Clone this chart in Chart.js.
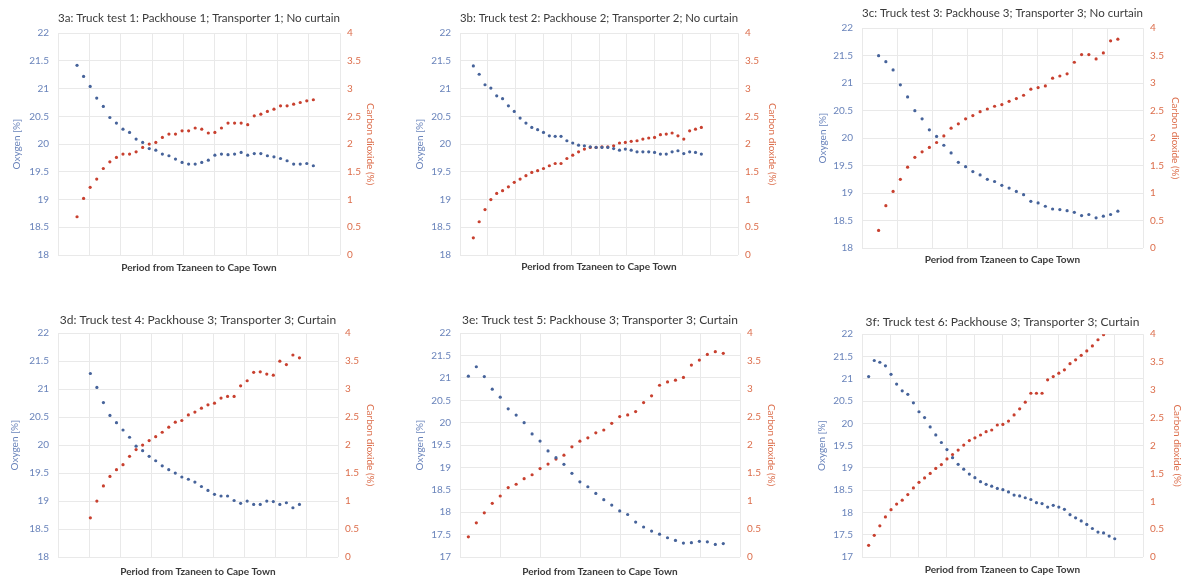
<!DOCTYPE html>
<html>
<head>
<meta charset="utf-8">
<script src="https://cdn.jsdelivr.net/npm/chart.js@4.4.0/dist/chart.umd.min.js"></script>
<style>
  html, body { margin: 0; padding: 0; background: #fff; overflow: hidden; }
  body { width: 1184px; height: 576px; position: relative; }
  canvas { position: absolute; }
</style>
</head>
<body>
<script>
// Oxygen (%) and carbon dioxide (%) readings, one per logging interval
const oxygen3a = [21.42, 21.22, 21.04, 20.83, 20.68, 20.48, 20.38, 20.27, 20.21, 20.09, 20.03, 19.92, 19.89, 19.82, 19.79, 19.73, 19.67, 19.64, 19.64, 19.67, 19.71, 19.80, 19.82, 19.81, 19.82, 19.85, 19.80, 19.83, 19.83, 19.79, 19.77, 19.74, 19.70, 19.64, 19.64, 19.65, 19.61];
const co2_3a = [0.69, 1.02, 1.22, 1.37, 1.56, 1.68, 1.76, 1.82, 1.82, 1.86, 1.94, 2.00, 2.03, 2.12, 2.18, 2.18, 2.24, 2.24, 2.29, 2.27, 2.20, 2.21, 2.29, 2.38, 2.38, 2.38, 2.35, 2.51, 2.54, 2.59, 2.63, 2.69, 2.69, 2.72, 2.75, 2.78, 2.80];

const oxygen3b = [21.41, 21.26, 21.07, 21.01, 20.87, 20.82, 20.69, 20.59, 20.47, 20.38, 20.30, 20.26, 20.21, 20.15, 20.14, 20.14, 20.06, 20.02, 19.98, 19.97, 19.95, 19.94, 19.94, 19.94, 19.92, 19.89, 19.91, 19.89, 19.86, 19.86, 19.86, 19.85, 19.82, 19.82, 19.86, 19.88, 19.83, 19.86, 19.85, 19.82];
const co2_3b = [0.31, 0.60, 0.82, 1.00, 1.11, 1.16, 1.23, 1.31, 1.37, 1.43, 1.49, 1.52, 1.56, 1.61, 1.65, 1.65, 1.74, 1.80, 1.86, 1.91, 1.94, 1.94, 1.95, 1.95, 1.97, 2.02, 2.03, 2.05, 2.06, 2.09, 2.11, 2.12, 2.17, 2.18, 2.20, 2.15, 2.09, 2.24, 2.27, 2.30];

const oxygen3c = [21.50, 21.39, 21.24, 20.97, 20.75, 20.50, 20.35, 20.15, 20.03, 19.87, 19.73, 19.56, 19.48, 19.39, 19.33, 19.25, 19.21, 19.14, 19.09, 19.03, 18.97, 18.85, 18.82, 18.76, 18.71, 18.70, 18.68, 18.65, 18.59, 18.61, 18.55, 18.58, 18.61, 18.67];
const co2_3c = [0.32, 0.77, 1.03, 1.25, 1.47, 1.65, 1.75, 1.83, 1.92, 2.04, 2.18, 2.26, 2.35, 2.41, 2.48, 2.53, 2.58, 2.61, 2.67, 2.72, 2.78, 2.89, 2.92, 2.95, 3.09, 3.13, 3.17, 3.38, 3.52, 3.52, 3.44, 3.55, 3.77, 3.80];

const oxygen3d = [21.28, 21.03, 20.76, 20.53, 20.40, 20.27, 20.14, 19.98, 19.90, 19.80, 19.72, 19.63, 19.56, 19.50, 19.43, 19.39, 19.34, 19.26, 19.19, 19.12, 19.09, 19.09, 19.01, 18.96, 19.00, 18.94, 18.94, 19.00, 18.99, 18.94, 18.97, 18.88, 18.94];
const co2_3d = [0.70, 1.00, 1.27, 1.44, 1.56, 1.65, 1.80, 1.92, 2.00, 2.08, 2.15, 2.23, 2.32, 2.41, 2.44, 2.54, 2.59, 2.66, 2.72, 2.75, 2.84, 2.87, 2.87, 3.06, 3.15, 3.30, 3.31, 3.27, 3.25, 3.50, 3.44, 3.61, 3.56];

const oxygen3e = [21.04, 21.25, 21.03, 20.75, 20.57, 20.31, 20.17, 20.00, 19.75, 19.59, 19.37, 19.22, 19.07, 18.87, 18.68, 18.57, 18.42, 18.28, 18.16, 18.03, 17.95, 17.78, 17.67, 17.58, 17.51, 17.43, 17.37, 17.31, 17.32, 17.35, 17.34, 17.28, 17.30];
const co2_3e = [0.36, 0.61, 0.79, 0.96, 1.09, 1.24, 1.30, 1.40, 1.47, 1.58, 1.66, 1.75, 1.82, 1.97, 2.07, 2.13, 2.22, 2.27, 2.39, 2.51, 2.54, 2.60, 2.76, 2.88, 3.07, 3.13, 3.16, 3.21, 3.43, 3.52, 3.62, 3.67, 3.64];

const oxygen3f = [21.05, 21.41, 21.37, 21.29, 21.10, 20.88, 20.73, 20.65, 20.46, 20.26, 20.13, 19.92, 19.74, 19.57, 19.41, 19.23, 19.08, 18.97, 18.86, 18.78, 18.69, 18.63, 18.59, 18.54, 18.51, 18.46, 18.39, 18.37, 18.33, 18.29, 18.22, 18.20, 18.12, 18.16, 18.12, 18.07, 17.95, 17.88, 17.81, 17.73, 17.64, 17.56, 17.54, 17.47, 17.41];
const co2_3f = [0.21, 0.39, 0.56, 0.72, 0.85, 0.95, 1.02, 1.12, 1.24, 1.34, 1.42, 1.50, 1.59, 1.66, 1.76, 1.84, 1.92, 2.01, 2.09, 2.14, 2.19, 2.25, 2.28, 2.37, 2.38, 2.44, 2.55, 2.66, 2.78, 2.94, 2.94, 2.94, 3.18, 3.24, 3.30, 3.36, 3.47, 3.54, 3.62, 3.70, 3.79, 3.90, 3.99];

const titles = [
  '3a: Truck test 1: Packhouse 1; Transporter 1; No curtain',
  '3b: Truck test 2: Packhouse 2; Transporter 2; No curtain',
  '3c: Truck test 3: Packhouse 3; Transporter 3; No curtain',
  '3d: Truck test 4: Packhouse 3; Transporter 3; Curtain',
  '3e: Truck test 5: Packhouse 3; Transporter 3; Curtain',
  '3f: Truck test 6: Packhouse 3; Transporter 3; Curtain'
];
const oxygenSeries = [oxygen3a, oxygen3b, oxygen3c, oxygen3d, oxygen3e, oxygen3f];
const co2Series = [co2_3a, co2_3b, co2_3c, co2_3d, co2_3e, co2_3f];
const oxygenMin = [18, 18, 18, 18, 17, 17];
const oxygenMax = 22;
const co2Max = 4;
const xTitle = 'Period from Tzaneen to Cape Town';
const oxygenTitle = 'Oxygen [%]';
const co2Title = 'Carbon dioxide (%)';

// page geometry of each panel (label centres and plot box), and x extent in reading units
const layout = [
  { title: 18, yLab: 17, y1Lab: 370, xLab: 268, l: 58, r: 340, t: 33, b: 255, xMin: -1.9, xMax: 41.06, grid: 9 },
  { title: 18, yLab: 420, y1Lab: 772, xLab: 267, l: 460, r: 738, t: 33, b: 255, xMin: -1.28, xMax: 46.27, grid: 10 },
  { title: 13, yLab: 823, y1Lab: 1175, xLab: 260, l: 862, r: 1143, t: 28, b: 248, xMin: -1.29, xMax: 37.47, grid: 8 },
  { title: 320, yLab: 15, y1Lab: 370, xLab: 572, l: 58, r: 338, t: 333, b: 557, xMin: -3.95, xMax: 38.9, grid: 9 },
  { title: 320, yLab: 420, y1Lab: 771, xLab: 572, l: 460, r: 740, t: 333, b: 557, xMin: -0.05, xMax: 35.1, grid: 7 },
  { title: 322, yLab: 822, y1Lab: 1177, xLab: 570, l: 862, r: 1143, t: 334, b: 557, xMin: -0.19, xMax: 50.05, grid: 10 }
];

const FONT = 'Lato, "Open Sans", sans-serif';
const BLUE_PT = '#46639a';
const RED_PT = '#c8402f';
const BLUE_TXT = '#6a84bb';
const RED_TXT = '#dc6e4c';
const GRID = '#e9e9e9';
const TITLE_LH = 14.4, AX_LH = 12;

// Excel style labels: 22, 21.5, 4, 0.5
const tickLabel = v => String(Number(v.toFixed(2)));

layout.forEach((g, i) => {
  const left = g.yLab - AX_LH / 2;
  const right = g.y1Lab + AX_LH / 2;
  const top = g.title - TITLE_LH / 2;
  const bottom = g.xLab + AX_LH / 2;

  const canvas = document.createElement('canvas');
  canvas.width = Math.round(right - left);
  canvas.height = Math.round(bottom - top);
  canvas.style.left = left + 'px';
  canvas.style.top = top + 'px';
  document.body.appendChild(canvas);

  const toPoints = arr => arr.map((v, k) => ({ x: k + 1, y: v }));

  new Chart(canvas, {
    type: 'scatter',
    data: {
      datasets: [
        {
          label: 'Oxygen',
          data: toPoints(oxygenSeries[i]),
          yAxisID: 'y',
          backgroundColor: BLUE_PT,
          borderWidth: 0,
          pointRadius: 1.6
        },
        {
          label: 'Carbon dioxide',
          data: toPoints(co2Series[i]),
          yAxisID: 'y1',
          backgroundColor: RED_PT,
          borderWidth: 0,
          pointRadius: 1.6
        }
      ]
    },
    options: {
      responsive: false,
      animation: false,
      layout: { padding: 0 },
      plugins: {
        legend: { display: false },
        tooltip: { enabled: false },
        title: {
          display: true,
          text: titles[i],
          fullSize: false,
          color: '#3a3a3a',
          font: { family: FONT, size: 12, weight: 'normal', lineHeight: 1.2 },
          padding: { top: 0, bottom: g.t - top - TITLE_LH }
        }
      },
      scales: {
        x: {
          type: 'linear',
          min: g.xMin,
          max: g.xMax,
          afterBuildTicks: s => {
            s.ticks = Array.from({ length: g.grid + 1 }, (_, k) => ({ value: g.xMin + (g.xMax - g.xMin) * k / g.grid }));
          },
          afterFit: s => { s.height = bottom - g.b; },
          ticks: { display: false },
          grid: { color: GRID, drawTicks: false },
          border: { display: false },
          title: {
            display: true,
            text: xTitle,
            color: '#3a3a3a',
            padding: 0,
            font: { family: FONT, size: 10, weight: 'bold', lineHeight: 1.2 }
          }
        },
        y: {
          position: 'left',
          min: oxygenMin[i],
          max: oxygenMax,
          afterFit: s => { s.width = g.l - left; },
          ticks: { stepSize: 0.5, padding: 9, color: BLUE_TXT, font: { family: FONT, size: 10 }, callback: tickLabel },
          grid: { color: GRID, drawTicks: false },
          border: { display: false },
          title: {
            display: true,
            text: oxygenTitle,
            color: BLUE_TXT,
            padding: 0,
            font: { family: FONT, size: 10, lineHeight: 1.2 }
          }
        },
        y1: {
          position: 'right',
          min: 0,
          max: co2Max,
          afterFit: s => { s.width = right - g.r; },
          ticks: { stepSize: 0.5, padding: 7, color: RED_TXT, font: { family: FONT, size: 10 }, callback: tickLabel },
          grid: { display: false, drawTicks: false },
          border: { display: false },
          title: {
            display: true,
            text: co2Title,
            color: RED_TXT,
            padding: 0,
            font: { family: FONT, size: 10, lineHeight: 1.2 }
          }
        }
      }
    }
  });
});
</script>
</body>
</html>
